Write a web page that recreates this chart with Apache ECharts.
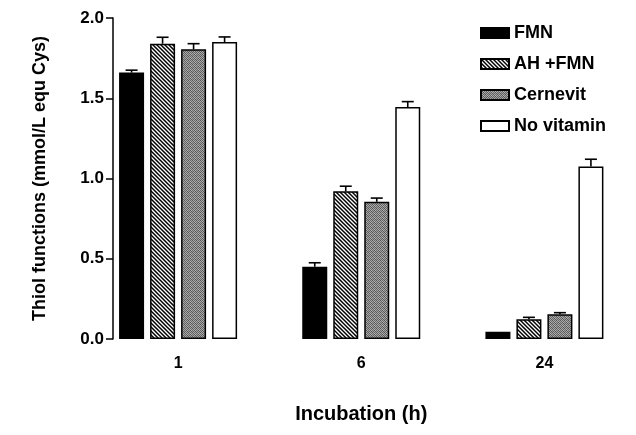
<!DOCTYPE html>
<html><head><meta charset="utf-8">
<script src="https://cdn.jsdelivr.net/npm/echarts@6/dist/echarts.min.js"></script>
<style>html,body{margin:0;padding:0;background:#fff}#c{width:636px;height:435px}</style>
</head><body><div id="c"></div>
<script>
// ---- data ----
const categories = ['1', '6', '24'];
const seriesNames = ['FMN', 'AH +FMN', 'Cernevit', 'No vitamin'];
const fmn = [1.66, 0.45, 0.045];
const ahFmn = [1.84, 0.92, 0.123];
const cernevit = [1.805, 0.855, 0.154];
const noVitamin = [1.85, 1.445, 1.075];
const fmnErr = [0.015, 0.025, 0];
const ahFmnErr = [0.04, 0.032, 0.012];
const cernevitErr = [0.035, 0.023, 0.01];
const noVitaminErr = [0.032, 0.034, 0.045];
const yMin = 0, yMax = 2.0, yStep = 0.5;
const yTitle = 'Thiol functions (mmol/L equ Cys)';
const xTitle = 'Incubation (h)';

// ---- styles ----
const FONT = '"Liberation Sans", Arial, Helvetica, sans-serif';
const BAR_W = 25, GAP = 6, CAP = 12;

function hatchPattern() {
  const s = 8, cv = document.createElement('canvas');
  cv.width = s; cv.height = s;
  const g = cv.getContext('2d');
  g.fillStyle = '#fff'; g.fillRect(0, 0, s, s);
  g.strokeStyle = '#000'; g.lineWidth = 1.5;
  for (let k = -2; k <= 2; k++) {
    g.beginPath();
    g.moveTo(k * 4 - 2, -2); g.lineTo(k * 4 + s + 2, s + 2);
    g.stroke();
  }
  return cv;
}
function checkPattern() {
  const cv = document.createElement('canvas');
  cv.width = 4; cv.height = 4;
  const g = cv.getContext('2d');
  const cols = [['#555', '#aaa', '#666', '#a0a0a0'],
                ['#a8a8a8', '#5e5e5e', '#b4b4b4', '#686868'],
                ['#6c6c6c', '#a2a2a2', '#525252', '#b0b0b0'],
                ['#9c9c9c', '#626262', '#a8a8a8', '#5a5a5a']];
  for (let y = 0; y < 4; y++) for (let x = 0; x < 4; x++) {
    g.fillStyle = cols[y][x]; g.fillRect(x, y, 1, 1);
  }
  return cv;
}
const fills = ['#000',
  { image: hatchPattern(), repeat: 'repeat' },
  { image: checkPattern(), repeat: 'repeat' },
  '#fff'];
const values = [fmn, ahFmn, cernevit, noVitamin];
const errs = [fmnErr, ahFmnErr, cernevitErr, noVitaminErr];

function errRender(idx) {
  return function (params, api) {
    const c = api.value(0), v = api.value(1), e = api.value(2);
    if (!(e > 0)) return null;
    const base = api.coord([c, v]);
    const top = api.coord([c, v + e]);
    const x = base[0] + (idx - 1.5) * (BAR_W + GAP);
    const st = { stroke: '#000', lineWidth: 1.6 };
    return { type: 'group', children: [
      { type: 'line', shape: { x1: x, y1: base[1], x2: x, y2: top[1] }, style: st },
      { type: 'line', shape: { x1: x - CAP / 2, y1: top[1], x2: x + CAP / 2, y2: top[1] }, style: st }
    ]};
  };
}

const series = [];
seriesNames.forEach((n, i) => {
  series.push({
    name: n, type: 'bar', data: values[i], barWidth: BAR_W, barGap: (GAP / BAR_W * 100) + '%',
    itemStyle: { color: fills[i], borderColor: '#000', borderWidth: 1.5 },
    emphasis: { disabled: true }, z: 2
  });
});
seriesNames.forEach((n, i) => {
  series.push({
    name: n + ' err', type: 'custom', z: 5,
    renderItem: errRender(i),
    data: values[i].map((v, k) => [k, v, errs[i][k]])
  });
});

const chart = echarts.init(document.getElementById('c'), null, { renderer: 'canvas' });
chart.setOption({
  animation: false,
  backgroundColor: '#fff',
  textStyle: { fontFamily: FONT },
  grid: { left: 86.5, right: -2.5, top: 18, bottom: 96, containLabel: false },
  legend: {
    data: seriesNames, orient: 'vertical', left: 480, top: 24, padding: 0,
    itemWidth: 28, itemHeight: 10, itemGap: 13, icon: 'rect',
    textStyle: { fontFamily: FONT, fontSize: 18, fontWeight: 'bold', color: '#000' }
  },
  xAxis: {
    type: 'category', data: categories,
    axisLine: { show: false }, axisTick: { show: false },
    axisLabel: { fontFamily: FONT, fontSize: 16, fontWeight: 'bold', color: '#000', margin: 17 },
    name: xTitle, nameLocation: 'middle', nameGap: 65,
    nameTextStyle: { fontFamily: FONT, fontSize: 20, fontWeight: 'bold', color: '#000' }
  },
  yAxis: {
    type: 'value', min: yMin, max: yMax, interval: yStep, offset: -26.5,
    axisLine: { show: true, lineStyle: { color: '#000', width: 1.5 } },
    axisTick: { show: true, length: 7, lineStyle: { color: '#000', width: 1.5 } },
    splitLine: { show: false },
    axisLabel: { formatter: v => v.toFixed(1), fontFamily: FONT, fontSize: 17, fontWeight: 'bold', color: '#000', margin: 9 },
    name: yTitle, nameLocation: 'middle', nameGap: 64,
    nameTextStyle: { fontFamily: FONT, fontSize: 18, fontWeight: 'bold', color: '#000' }
  },
  series: series
});
</script>
</body></html>
